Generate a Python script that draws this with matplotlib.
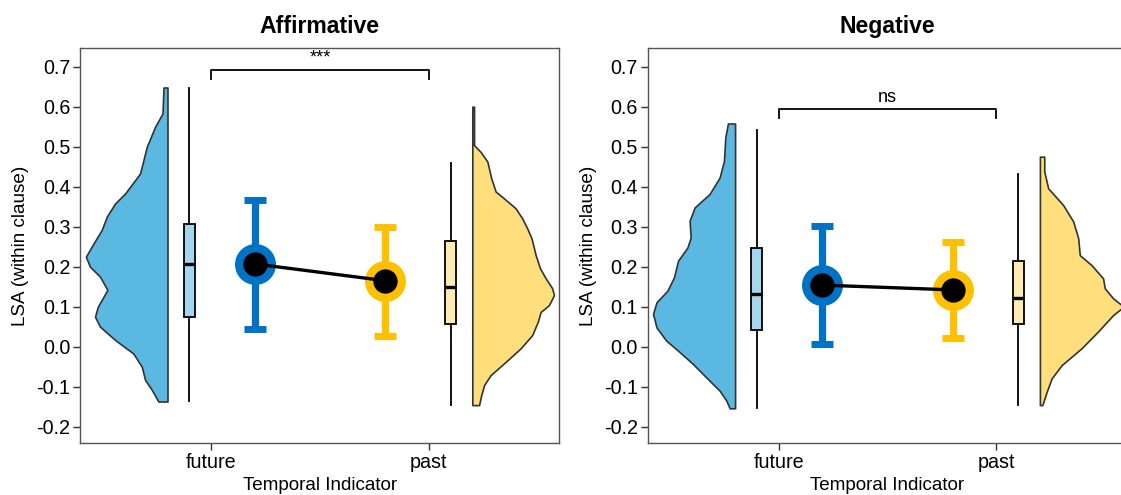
import matplotlib
matplotlib.use("Agg")
import matplotlib.pyplot as plt
import numpy as np

plt.rcParams["font.family"] = ["Liberation Sans", "DejaVu Sans"]
plt.rcParams["axes.unicode_minus"] = False

CONDITIONS = ["future", "past"]
PANELS = ["Affirmative", "Negative"]
SIG_LABELS = ["***", "ns"]
YTICKS = [-0.2, -0.1, 0.0, 0.1, 0.2, 0.3, 0.4, 0.5, 0.6, 0.7]

# mean + error bar (lo, hi) per condition
AFF_MEAN = [0.207, 0.165]
AFF_LO = [0.044, 0.028]
AFF_HI = [0.367, 0.299]
NEG_MEAN = [0.154, 0.142]
NEG_LO = [0.007, 0.023]
NEG_HI = [0.302, 0.262]

# boxplot: whislo, q1, median, q3, whishi
AFF_BOX_FUT = [-0.136, 0.075, 0.207, 0.308, 0.648]
AFF_BOX_PAST = [-0.146, 0.056, 0.150, 0.264, 0.460]
NEG_BOX_FUT = [-0.153, 0.042, 0.131, 0.248, 0.542]
NEG_BOX_PAST = [-0.145, 0.056, 0.122, 0.214, 0.431]

# half-violin outlines: y level and half width (x units)
AFF_FUT_Y = [0.648, 0.583, 0.55, 0.50, 0.433, 0.383, 0.358, 0.325, 0.292, 0.258,
             0.225, 0.20, 0.175, 0.142, 0.10, 0.075, 0.05, 0.017, -0.017, -0.05,
             -0.083, -0.108, -0.137]
AFF_FUT_W = [0.018, 0.023, 0.057, 0.095, 0.126, 0.195, 0.241, 0.279, 0.302, 0.340,
             0.375, 0.356, 0.310, 0.276, 0.320, 0.333, 0.310, 0.241, 0.157, 0.118,
             0.103, 0.072, 0.042]
AFF_PAST_Y = [0.600, 0.504, 0.487, 0.463, 0.421, 0.388, 0.371, 0.346, 0.321, 0.296,
              0.271, 0.229, 0.196, 0.171, 0.146, 0.129, 0.104, 0.087, 0.063, 0.029,
              -0.004, -0.038, -0.071, -0.096, -0.121, -0.146]
AFF_PAST_W = [0.008, 0.008, 0.038, 0.069, 0.087, 0.107, 0.145, 0.199, 0.229, 0.252,
              0.272, 0.291, 0.311, 0.337, 0.367, 0.375, 0.352, 0.314, 0.301, 0.275,
              0.222, 0.153, 0.084, 0.054, 0.041, 0.031]
NEG_FUT_Y = [0.558, 0.523, 0.465, 0.423, 0.382, 0.348, 0.315, 0.273, 0.248, 0.215,
             0.173, 0.14, 0.111, 0.082, 0.048, 0.015, -0.01, -0.043, -0.077, -0.11,
             -0.135, -0.154]
NEG_FUT_W = [0.033, 0.045, 0.051, 0.071, 0.117, 0.186, 0.209, 0.204, 0.219, 0.262,
             0.281, 0.311, 0.361, 0.377, 0.361, 0.316, 0.262, 0.194, 0.132, 0.071,
             0.040, 0.025]
NEG_PAST_Y = [0.475, 0.438, 0.396, 0.354, 0.313, 0.271, 0.229, 0.204, 0.171, 0.146,
              0.121, 0.10, 0.079, 0.038, -0.004, -0.046, -0.079, -0.113, -0.146]
NEG_PAST_W = [0.02, 0.02, 0.038, 0.107, 0.153, 0.176, 0.183, 0.237, 0.290, 0.298,
              0.336, 0.385, 0.336, 0.267, 0.191, 0.10, 0.054, 0.031, 0.011]

BRACKET_Y = [0.692, 0.594]

VIOLIN_COL = ["#5BB8E1", "#FEDF7C"]
BOX_COL = ["#A6D5EE", "#FEEBB2"]
MEAN_COL = ["#0072C5", "#FFC000"]

panel_data = [
    (AFF_MEAN, AFF_LO, AFF_HI, [AFF_BOX_FUT, AFF_BOX_PAST],
     [(AFF_FUT_Y, AFF_FUT_W), (AFF_PAST_Y, AFF_PAST_W)]),
    (NEG_MEAN, NEG_LO, NEG_HI, [NEG_BOX_FUT, NEG_BOX_PAST],
     [(NEG_FUT_Y, NEG_FUT_W), (NEG_PAST_Y, NEG_PAST_W)]),
]

fig = plt.figure(figsize=(11.21, 4.95), dpi=100)
W, H = 1121, 495
ax_rects = [(80.4, 48.3, 479.0, 395.0), (648.0, 48.3, 479.0, 395.0)]

for i, (title, sig) in enumerate(zip(PANELS, SIG_LABELS)):
    x0, y0, w, h = ax_rects[i]
    ax = fig.add_axes([x0 / W, (H - y0 - h) / H, w / W, h / H])
    means, lo, hi, boxes, violins = panel_data[i]

    # half violins
    for (vy, vw), base, side, col in zip(violins, [0.8, 2.2], [-1, 1], VIOLIN_COL):
        vy = np.array(vy)
        vw = np.array(vw)
        ax.fill_betweenx(vy, base, base + side * vw, facecolor=col,
                         edgecolor="#333333", lw=1.2, joinstyle="round",
                         zorder=2)

    # boxplots
    stats = [dict(whislo=b[0], q1=b[1], med=b[2], q3=b[3], whishi=b[4])
             for b in boxes]
    bp = ax.bxp(stats, positions=[0.9, 2.1], widths=0.05, patch_artist=True,
                showfliers=False, showcaps=False, manage_ticks=False,
                boxprops=dict(edgecolor="black", lw=1.3),
                whiskerprops=dict(color="black", lw=1.3),
                medianprops=dict(color="black", lw=2.4))
    for patch, col in zip(bp["boxes"], BOX_COL):
        patch.set_facecolor(col)
        patch.set_zorder(3)
    for med in bp["medians"]:
        med.set_zorder(3.5)

    # means with error bars
    mx = [1.2, 1.8]
    for j in range(2):
        ax.errorbar(mx[j], means[j],
                    yerr=[[means[j] - lo[j]], [hi[j] - means[j]]],
                    fmt="none", ecolor=MEAN_COL[j], elinewidth=5.2,
                    capsize=7.8, capthick=5.0, zorder=4)
        ax.plot(mx[j], means[j], "o", ms=29.5, color=MEAN_COL[j], mew=0,
                zorder=5)
    ax.plot(mx, means, color="black", lw=2.4, zorder=6)
    ax.plot(mx, means, "o", ms=17.5, color="black", mew=0, zorder=7)

    # significance bracket
    by = BRACKET_Y[i]
    ax.plot([1, 1, 2, 2], [by - 0.022, by, by, by - 0.022], color="black",
            lw=1.3, zorder=6)
    ax.text(1.5, by + 0.009, sig, ha="center", va="bottom", fontsize=13)

    ax.set_xlim(0.4, 2.6)
    ax.set_ylim(-0.2415, 0.746)
    ax.set_xticks([1, 2])
    ax.set_xticklabels(CONDITIONS)
    ax.set_yticks(YTICKS)
    ax.set_yticklabels([f"{t:.1f}" for t in YTICKS])
    ax.tick_params(labelsize=14.2, length=4.8, width=1.0, color="#333333",
                   labelcolor="black", pad=2.5)
    for sp in ax.spines.values():
        sp.set_color("#555555")
        sp.set_linewidth(1.0)

    ax.set_title(title, fontsize=16.6, fontweight="bold", pad=10.7)
    ax.set_xlabel("Temporal Indicator", fontsize=13.6, va="center")
    ax.xaxis.set_label_coords(0.5, -(485 - 443.3) / h)
    ax.set_ylabel("LSA (within clause)", fontsize=13.6, va="center")
    ax.yaxis.set_label_coords(-0.125, 0.5)

fig.savefig("out.png", dpi=100)
